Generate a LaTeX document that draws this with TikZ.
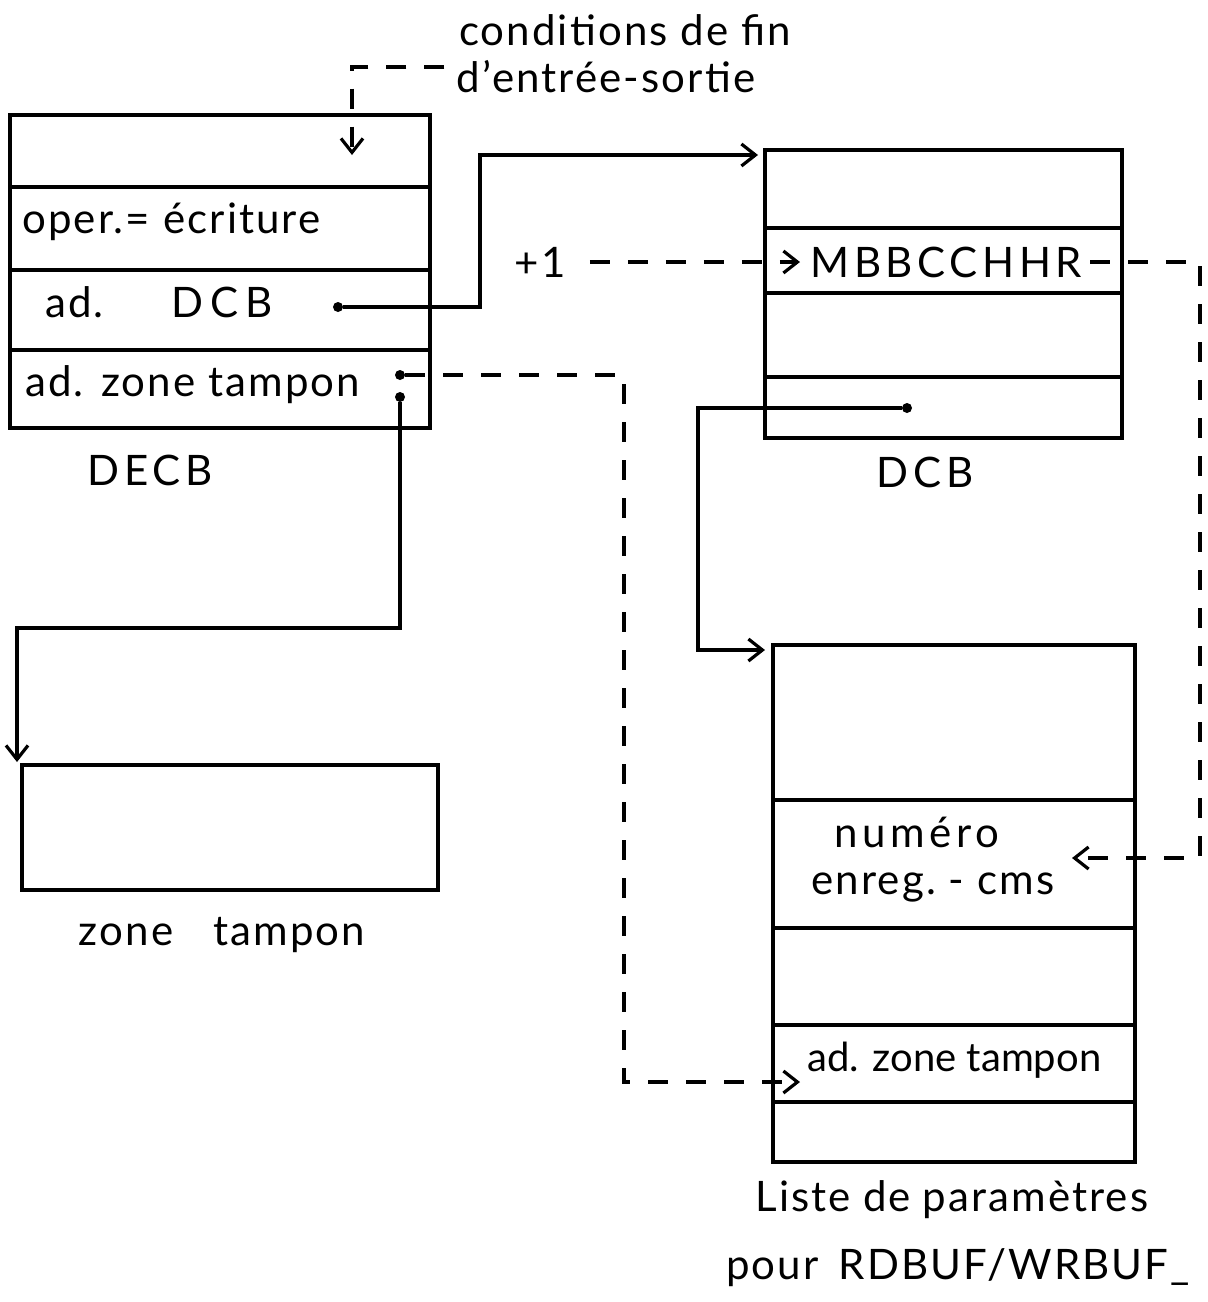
\documentclass[tikz,border=0pt]{standalone}
\usepackage{fontspec}
\setmainfont{Lato}
\usetikzlibrary{arrows.meta,positioning}

\tikzset{
    cell/.style={draw, line width=1.9pt, inner sep=0pt, outer sep=0pt, anchor=north west},
    lbl/.style={inner sep=0pt, font=\fontsize{21}{24}\selectfont\addfontfeatures{LetterSpace=5}},
    wide/.style={lbl, font=\fontsize{21}{24}\selectfont\addfontfeatures{LetterSpace=11}},
    tight/.style={inner sep=0pt, font=\fontsize{20}{23}\selectfont},
    wire/.style={line width=1.6pt},
    dashwire/.style={line width=1.6pt, dash pattern=on 10pt off 9pt},
    tip/.style={-{Straight Barb[length=7pt,width=11pt]}},
    dot/.style={circle, fill, inner sep=0pt, minimum size=5pt},
}

\begin{document}
\begin{tikzpicture}[x=0.5pt,y=-0.5pt]
    \useasboundingbox (0,0) rectangle (1208,1302);

    % DECB
    \node[cell, minimum width=210pt, minimum height=36pt] (decb1) at (10,115) {};
    \node[cell, minimum width=210pt, minimum height=41.5pt, below=0pt of decb1] (decb2) {};
    \node[cell, minimum width=210pt, minimum height=40pt, below=0pt of decb2] (decb3) {};
    \node[cell, minimum width=210pt, minimum height=39pt, below=0pt of decb3] (decb4) {};
    \node[lbl, anchor=west] (oper) at (22,222) {oper.= écriture};
    \node[lbl, anchor=west] (addcb) at (45,302) {ad.\hspace{34pt}D\,C\,B};
    \node[lbl, anchor=west] (adzone) at (25,385) {ad. zone tampon};
    \node[wide] (decblbl) at (150,470) {DECB};

    % DCB
    \node[cell, minimum width=178.5pt, minimum height=39pt] (dcb1) at (765,150) {};
    \node[cell, minimum width=178.5pt, minimum height=32.5pt, below=0pt of dcb1] (dcb2) {};
    \node[cell, minimum width=178.5pt, minimum height=42pt, below=0pt of dcb2] (dcb3) {};
    \node[cell, minimum width=178.5pt, minimum height=30.5pt, below=0pt of dcb3] (dcb4) {};
    \node[wide, anchor=west] (mb) at (810,262) {MBBCCHHR};
    \node[wide] (dcblbl) at (925,472) {DCB};

    % zone tampon
    \node[cell, minimum width=208pt, minimum height=62.5pt] (zone) at (22,765) {};
    \node[lbl] (zonelbl) at (222,935) {zone\hspace{20pt}tampon};

    % liste de parametres
    \node[cell, minimum width=181pt, minimum height=77.5pt] (list1) at (773,645) {};
    \node[cell, minimum width=181pt, minimum height=64pt, below=0pt of list1] (list2) {};
    \node[cell, minimum width=181pt, minimum height=48.5pt, below=0pt of list2] (list3) {};
    \node[cell, minimum width=181pt, minimum height=38.5pt, below=0pt of list3] (list4) {};
    \node[cell, minimum width=181pt, minimum height=30pt, below=0pt of list4] (list5) {};
    \node[wide] (numero) at (917,832) {numéro};
    \node[lbl] (enreg) at (933,887) {enreg.\ - cms};
    \node[tight, anchor=west] (listzone) at (807,1060) {ad. zone tampon};
    \node[lbl] (liste1) at (952,1200) {Liste\hspace{6pt}de\hspace{6pt}paramètres};
    \node[lbl] (liste2) at (958,1268) {pour\hspace{10pt}RDBUF/WRBUF\_};

    % textes libres
    \node[lbl] (cond1) at (625,30) {conditions de fin};
    \node[lbl] (cond2) at (606,77) {d'entrée-sortie};
    \node[lbl] (plus) at (540,262) {+1};

    % pointeurs
    \node[dot] (p1) at (338,307) {};
    \node[dot] (p2) at (907,408) {};
    \node[dot] (p3) at (400,375) {};
    \node[dot] (p4) at (400,397) {};
    \coordinate (condin) at (352,155);
    \coordinate (dcbin) at (758,155);
    \coordinate (rx) at (1200,858);
    \coordinate (numin) at (1072,858);
    \coordinate (listin) at (765,650);
    \coordinate (bufin) at (800,1082);
    \coordinate (zonein) at (17,762);

    \draw[dashwire, tip] ([xshift=-6pt,yshift=5pt]cond2.west) -| (condin);
    \draw[wire, tip] (p1) -- ++(142,0) |- (dcbin);
    \draw[dashwire, tip] ([xshift=12pt]plus.east) -- ([xshift=-5pt]mb.west);
    \draw[dashwire, tip] ([xshift=4pt]mb.east) -| (rx) -- (numin);
    \draw[wire, tip] (p2) -- ++(-209,0) |- (listin);
    \draw[dashwire, tip] (p3) -- ++(224,0) |- (bufin);
    \draw[wire, tip] (p4) -- ++(0,231) -| (zonein);
\end{tikzpicture}
\end{document}
